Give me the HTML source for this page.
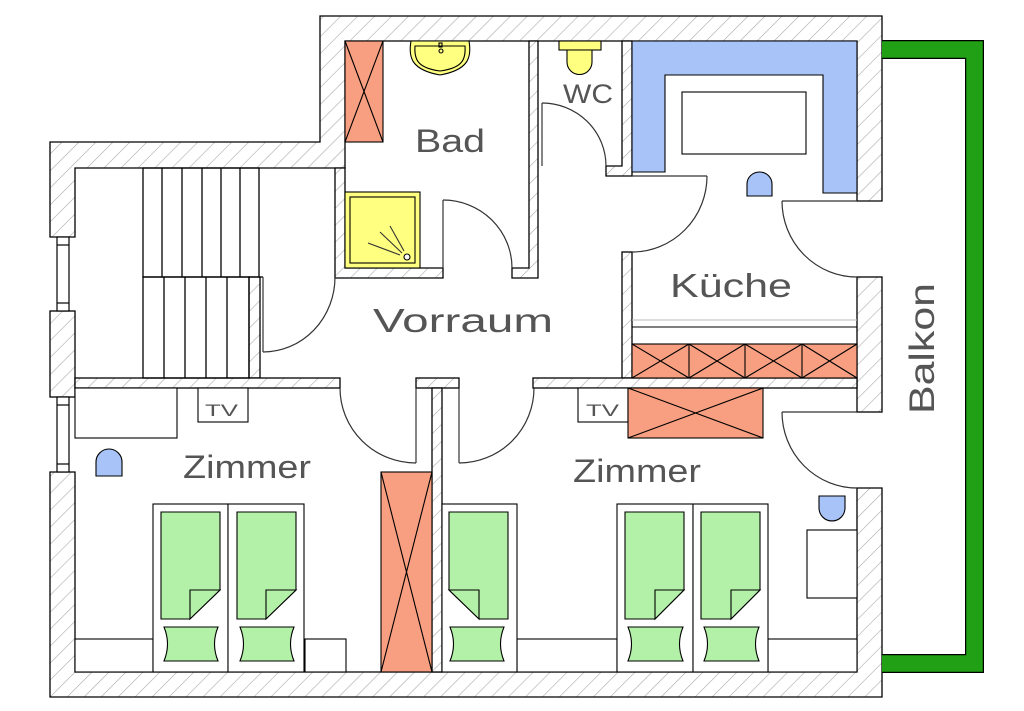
<!DOCTYPE html>
<html><head><meta charset="utf-8"><style>
html,body{margin:0;padding:0;background:#fff;width:1024px;height:711px;overflow:hidden}
svg{display:block}
text{font-family:"Liberation Sans",sans-serif;fill:#555}
</style></head><body>
<svg width="1024" height="711" viewBox="0 0 1024 711" xmlns="http://www.w3.org/2000/svg">
<defs>
<pattern id="h" patternUnits="userSpaceOnUse" width="12" height="12" patternTransform="rotate(45)">
<rect width="12" height="12" fill="#fff"/>
<line x1="0" y1="0" x2="0" y2="12" stroke="#aaa" stroke-width="1.2"/>
</pattern>
</defs>
<rect width="1024" height="711" fill="#fff"/>
<g fill="url(#h)" stroke="#000" stroke-width="1.3">
<polygon points="50,237 50,142 320,142 320,16 882,16 882,201 857,201 857,41 345,41 345,168 75,168 75,237"/>
<rect x="50" y="311" width="25" height="86"/>
<polygon points="50,472 75,472 75,672 857,672 857,488 882,488 882,697 50,697"/>
<rect x="857" y="277" width="25" height="135"/>
<polygon points="335,168 345,168 345,268 443,268 443,278 335,278"/>
<rect x="249" y="277" width="11" height="101"/>
<polygon points="529,41 538,41 538,278 512,278 512,268 529,268"/>
<polygon points="622,41 632,41 632,176 606,176 606,166 622,166"/>
<rect x="622" y="252" width="10" height="126"/>
<rect x="75" y="378" width="265" height="10"/>
<rect x="533" y="378" width="324" height="10"/>
<rect x="416" y="378" width="43" height="10"/>
<rect x="432" y="388" width="10" height="284"/>
</g>
<g fill="#fff" stroke="#000" stroke-width="1.2">
<rect x="57" y="237" width="12" height="74"/><line x1="57" y1="245" x2="69" y2="245"/><line x1="57" y1="303" x2="69" y2="303"/>
<rect x="57" y="397" width="12" height="75"/><line x1="57" y1="405" x2="69" y2="405"/><line x1="57" y1="464" x2="69" y2="464"/>
</g>
<g fill="none" stroke="#000" stroke-width="1.3">
<rect x="143" y="168" width="116" height="109"/>
<line x1="162" y1="168" x2="162" y2="277"/><line x1="182" y1="168" x2="182" y2="277"/><line x1="202" y1="168" x2="202" y2="277"/><line x1="221" y1="168" x2="221" y2="277"/><line x1="240" y1="168" x2="240" y2="277"/>
<rect x="143" y="277" width="106" height="101"/>
<line x1="164" y1="277" x2="164" y2="378"/><line x1="185" y1="277" x2="185" y2="378"/><line x1="206" y1="277" x2="206" y2="378"/><line x1="227" y1="277" x2="227" y2="378"/>
<line x1="260" y1="277" x2="263" y2="277"/>
</g>
<g fill="none" stroke="#333" stroke-width="1.2">
<line x1="263" y1="277" x2="263" y2="352"/><path d="M335,277 A72,75 0 0 1 263,352"/>
<line x1="443" y1="200" x2="443" y2="268"/><path d="M443,200 A69,68 0 0 1 512,268"/>
<line x1="542" y1="103" x2="542" y2="166"/><path d="M542,103 A64,63 0 0 1 606,166"/>
<line x1="632" y1="176" x2="707" y2="176"/><path d="M707,176 A75,76 0 0 1 632,252"/>
<line x1="782" y1="201" x2="857" y2="201"/><path d="M782,201 A75,76 0 0 0 857,277"/>
<line x1="416" y1="388" x2="416" y2="463"/><path d="M340,388 A76,75 0 0 0 416,463"/>
<line x1="459" y1="388" x2="459" y2="463"/><path d="M459,463 A75,75 0 0 0 534,388"/>
<line x1="782" y1="412" x2="857" y2="412"/><path d="M782,412 A75,76 0 0 0 857,488"/>
</g>
<g stroke="#000" stroke-width="1.1">
<rect x="345" y="41" width="38" height="101" fill="#f79f80"/>
<line x1="345" y1="41" x2="383" y2="142"/><line x1="383" y1="41" x2="345" y2="142"/>
<path d="M411,41 C408,58 412,70 440,75 C468,70 472,58 469,41 Z" fill="#ffff80"/>
<path d="M415,46 L465,46 C466,60 462,68 440,71 C418,68 414,60 415,46 Z" fill="#ffff80"/>
<rect x="439" y="43" width="3" height="4" fill="none"/><circle cx="441" cy="51" r="2" fill="none"/>
<rect x="345" y="192" width="75" height="76" fill="#ffff80"/>
<rect x="350" y="197" width="65" height="66" fill="#ffff80"/>
<g stroke="#333"><line x1="368" y1="243" x2="400" y2="255"/><line x1="380" y1="232" x2="402" y2="253"/><line x1="390" y1="226" x2="404" y2="251"/></g>
<circle cx="407" cy="257" r="3" fill="#fff"/>
<rect x="559" y="41" width="42" height="9" fill="#ffff80"/>
<path d="M567,50 L592,50 L592,62 A12.5,12.5 0 0 1 567,62 Z" fill="#ffff80"/>
</g>
<g stroke="#000" stroke-width="1.1">
<path d="M632,41 L857,41 L857,193 L823,193 L823,75 L665,75 L665,172 L632,172 Z" fill="#a7c3f7"/>
<rect x="682" y="92" width="124" height="62" fill="#fff"/>
<path d="M747,196 L747,184 A12.5,12 0 0 1 772,184 L772,196 Z" fill="#a7c3f7"/>
<line x1="632" y1="320" x2="857" y2="320" stroke="#bbb"/>
<line x1="632" y1="327" x2="857" y2="327"/>
<rect x="632" y="344" width="225" height="34" fill="#f79f80"/>
<line x1="689" y1="344" x2="689" y2="378"/><line x1="745" y1="344" x2="745" y2="378"/><line x1="802" y1="344" x2="802" y2="378"/>
<path d="M632,344 L689,378 M689,344 L632,378 M689,344 L745,378 M745,344 L689,378 M745,344 L802,378 M802,344 L745,378 M802,344 L857,378 M857,344 L802,378" fill="none"/>
</g>
<g stroke="#000" stroke-width="1.1" fill="#fff">
<rect x="75" y="388" width="102" height="50"/>
<rect x="198" y="388" width="50" height="34"/>
<path d="M96,476 L96,462 A13,13 0 0 1 122,462 L122,476 Z" fill="#a7c3f7"/>
<rect x="381" y="472" width="51" height="200" fill="#f79f80"/>
<line x1="381" y1="472" x2="432" y2="672"/><line x1="432" y1="472" x2="381" y2="672"/>
<rect x="75" y="639" width="78" height="33"/>
<rect x="305" y="639" width="41" height="33"/>
<rect x="153" y="504" width="75" height="168"/><rect x="228" y="504" width="76" height="168"/>
<rect x="578" y="388" width="50" height="34"/>
<rect x="628" y="388" width="135" height="50" fill="#f79f80"/>
<line x1="628" y1="388" x2="763" y2="438"/><line x1="763" y1="388" x2="628" y2="438"/>
<rect x="517" y="639" width="100" height="33"/>
<rect x="768" y="639" width="89" height="33"/>
<rect x="807" y="530" width="50" height="68"/>
<path d="M819,496 L845,496 L845,508 A13,13 0 0 1 819,508 Z" fill="#a7c3f7"/>
<rect x="442" y="504" width="75" height="168"/>
<rect x="617" y="504" width="76" height="168"/><rect x="693" y="504" width="75" height="168"/>
</g>
<g stroke="#000" stroke-width="1.1" fill="#b3f0a8">
<path d="M161,512 L220,512 L220,590 L190,619 L161,619 Z"/><path d="M190,590 L220,590 L190,619 Z"/>
<path d="M164,627 L218,627 Q211,644 218,661 L164,661 Q171,644 164,627 Z"/>
<path d="M237,512 L296,512 L296,590 L266,619 L237,619 Z"/><path d="M266,590 L296,590 L266,619 Z"/>
<path d="M240,627 L294,627 Q287,644 294,661 L240,661 Q247,644 240,627 Z"/>
<path d="M449,512 L508,512 L508,619 L479,619 L449,590 Z"/><path d="M449,590 L479,590 L479,619 Z"/>
<path d="M450,627 L504,627 Q497,644 504,661 L450,661 Q457,644 450,627 Z"/>
<path d="M625,512 L684,512 L684,590 L655,619 L625,619 Z"/><path d="M655,590 L684,590 L655,619 Z"/>
<path d="M628,627 L683,627 Q676,644 683,661 L628,661 Q635,644 628,627 Z"/>
<path d="M701,512 L760,512 L760,590 L731,619 L701,619 Z"/><path d="M731,590 L760,590 L731,619 Z"/>
<path d="M704,627 L759,627 Q752,644 759,661 L704,661 Q711,644 704,627 Z"/>
</g>
<path d="M882,49.5 L974.5,49.5 L974.5,663.5 L882,663.5" fill="none" stroke="#000" stroke-width="19"/>
<path d="M882,49.5 L974.5,49.5 L974.5,663.5 L882,663.5" fill="none" stroke="#22a015" stroke-width="16.5"/>
<text x="415" y="152" font-size="32" textLength="70" lengthAdjust="spacingAndGlyphs">Bad</text>
<text x="563" y="103" font-size="27" textLength="50" lengthAdjust="spacingAndGlyphs">WC</text>
<text x="670" y="297" font-size="33" textLength="122" lengthAdjust="spacingAndGlyphs">Küche</text>
<text x="373" y="332" font-size="33" textLength="180" lengthAdjust="spacingAndGlyphs">Vorraum</text>
<text x="183" y="478" font-size="32" textLength="128" lengthAdjust="spacingAndGlyphs">Zimmer</text>
<text x="573" y="482" font-size="32" textLength="128" lengthAdjust="spacingAndGlyphs">Zimmer</text>
<text x="205" y="416" font-size="17" textLength="33" lengthAdjust="spacingAndGlyphs">TV</text>
<text x="586" y="416" font-size="17" textLength="33" lengthAdjust="spacingAndGlyphs">TV</text>
<text transform="translate(934,414) rotate(-90)" font-size="35" textLength="131" lengthAdjust="spacingAndGlyphs">Balkon</text>
</svg>
</body></html>
